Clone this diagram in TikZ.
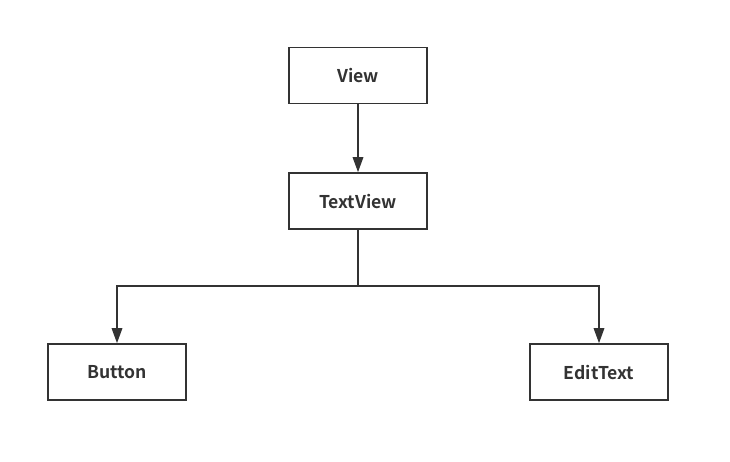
\documentclass[tikz,border=0pt]{standalone}
\usepackage{fontspec}
\newfontfamily\labelfont{Noto Sans CJK SC}[BoldFont={* Bold}]
\usetikzlibrary{arrows.meta}
\definecolor{ink}{HTML}{333333}
\begin{document}
\begin{tikzpicture}[x=1pt,y=-1pt,
  cls/.style={draw=ink,line width=1.6pt,minimum width=138pt,minimum height=56pt,inner sep=0pt,font=\labelfont\fontsize{17.6}{19}\selectfont\bfseries,text=ink},
  conn/.style={draw=ink,line width=1.6pt,-{Triangle[length=15pt,width=10.5pt]}}]
\useasboundingbox (0,0) rectangle (730,462);
\fill[white] (0,0) rectangle (730,462);
\node[cls] (view) at (358,75.5) {View};
\node[cls] (tv) at (358,201) {TextView};
\node[cls] (btn) at (117,372) {Button};
\node[cls] (et) at (599,372) {EditText};
\coordinate (j) at (358,286);
\draw[draw=ink,line width=1.6pt] (tv.south) -- (j);
\draw[conn] (view.south) -- (tv.north);
\draw[conn] (j) -| (btn.north);
\draw[conn] (j) -| (et.north);
\end{tikzpicture}
\end{document}
